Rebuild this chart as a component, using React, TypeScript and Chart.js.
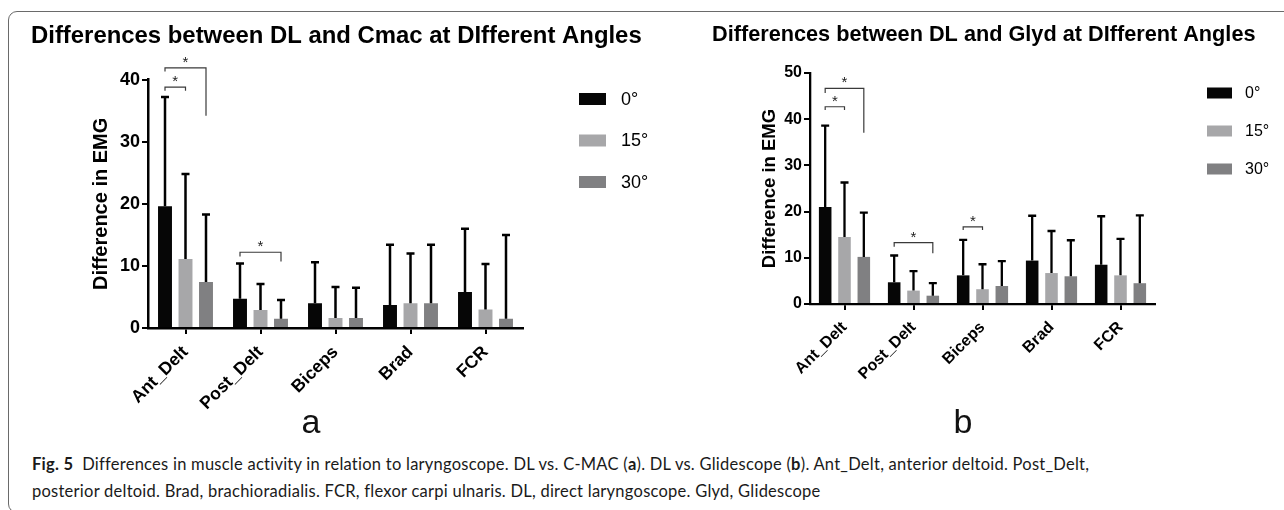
import React, { useEffect, useRef } from "react";
import { Chart, registerables } from "chart.js";

Chart.register(...registerables);

// ---------- data ----------
const muscles = ["Ant_Delt", "Post_Delt", "Biceps", "Brad", "FCR"];
const angleLabels = ["0°", "15°", "30°"];

// DL vs C-MAC (panel a): mean differences and upper SD
const cmac0 = [19.6, 4.7, 4.0, 3.7, 5.8];
const cmac15 = [11.1, 2.9, 1.6, 4.0, 3.0];
const cmac30 = [7.4, 1.5, 1.6, 4.0, 1.5];
const cmac0Sd = [17.6, 5.7, 6.6, 9.7, 10.2];
const cmac15Sd = [13.7, 4.2, 5.0, 8.0, 7.3];
const cmac30Sd = [10.9, 3.0, 4.9, 9.4, 13.5];
const cmacYMax = 40;

// DL vs Glidescope (panel b)
const glyd0 = [21.0, 4.7, 6.2, 9.4, 8.5];
const glyd15 = [14.5, 2.9, 3.2, 6.7, 6.2];
const glyd30 = [10.2, 1.8, 3.9, 6.0, 4.5];
const glyd0Sd = [17.6, 5.8, 7.7, 9.7, 10.5];
const glyd15Sd = [11.8, 4.2, 5.4, 9.1, 7.9];
const glyd30Sd = [9.6, 2.7, 5.4, 7.8, 14.7];
const glydYMax = 50;

// significance brackets: category index, series from/to, top value, leg ends (data units)
const cmacBrackets = [
  { cat: 0, from: 0, to: 1, top: 38.8, endFrom: 38.2, endTo: 38.2 },
  { cat: 0, from: 0, to: 2, top: 41.9, endFrom: 41.3, endTo: 34.2 },
  { cat: 1, from: 0, to: 2, top: 12.2, endFrom: 11.5, endTo: 10.7 },
];
const glydBrackets = [
  { cat: 0, from: 0, to: 1, top: 42.7, endFrom: 42.0, endTo: 42.0 },
  { cat: 0, from: 0, to: 2, top: 46.7, endFrom: 45.7, endTo: 37.1 },
  { cat: 1, from: 0, to: 2, top: 13.3, endFrom: 12.4, endTo: 11.0 },
  { cat: 2, from: 0, to: 1, top: 16.7, endFrom: 16.0, endTo: 16.0 },
];

const seriesColors = ["#060606", "#a7a7a9", "#808082"];
const FONT = "'Liberation Sans', Arial, Helvetica, sans-serif";

// ---------- plugins ----------
const errorBarPlugin = {
  id: "errorBars",
  afterDatasetsDraw(chart: any, _a: any, opts: any) {
    const { ctx } = chart;
    const ys = chart.scales.y;
    ctx.save();
    ctx.strokeStyle = "#000";
    ctx.lineWidth = opts.lineWidth || 2;
    chart.data.datasets.forEach((ds: any, i: number) => {
      const meta = chart.getDatasetMeta(i);
      meta.data.forEach((bar: any, j: number) => {
        const top = ys.getPixelForValue(ds.data[j] + ds.errors[j]);
        const half = (opts.capWidth || 8) / 2;
        ctx.beginPath();
        ctx.moveTo(bar.x, bar.y);
        ctx.lineTo(bar.x, top);
        ctx.moveTo(bar.x - half, top);
        ctx.lineTo(bar.x + half, top);
        ctx.stroke();
      });
    });
    ctx.restore();
  },
};

const bracketPlugin = {
  id: "brackets",
  afterDatasetsDraw(chart: any, _a: any, opts: any) {
    const { ctx } = chart;
    const ys = chart.scales.y;
    ctx.save();
    ctx.strokeStyle = "#3a3a3a";
    ctx.lineWidth = 1.2;
    ctx.fillStyle = "#222";
    ctx.font = `${opts.starSize || 14}px ${FONT}`;
    ctx.textAlign = "center";
    ctx.textBaseline = "middle";
    (opts.items || []).forEach((b: any) => {
      const xa = chart.getDatasetMeta(b.from).data[b.cat].x;
      const xb = chart.getDatasetMeta(b.to).data[b.cat].x;
      const yt = ys.getPixelForValue(b.top);
      ctx.beginPath();
      ctx.moveTo(xa, ys.getPixelForValue(b.endFrom));
      ctx.lineTo(xa, yt);
      ctx.lineTo(xb, yt);
      ctx.lineTo(xb, ys.getPixelForValue(b.endTo));
      ctx.stroke();
      ctx.fillText("*", (xa + xb) / 2, yt - (opts.starLift || 4));
    });
    ctx.restore();
  },
};

const sideLegendPlugin = {
  id: "sideLegend",
  afterDraw(chart: any, _a: any, opts: any) {
    const { ctx } = chart;
    const x0 = chart.chartArea.right + opts.offsetX;
    ctx.save();
    ctx.font = `${opts.fontSize}px ${FONT}`;
    ctx.textBaseline = "middle";
    ctx.textAlign = "left";
    chart.data.datasets.forEach((ds: any, i: number) => {
      const cy = opts.firstY + i * opts.spacing;
      ctx.fillStyle = ds.backgroundColor;
      ctx.fillRect(x0, cy - opts.boxH / 2, opts.boxW, opts.boxH);
      ctx.fillStyle = "#000";
      ctx.fillText(ds.label, x0 + opts.boxW + opts.gap, cy + 1);
    });
    ctx.restore();
  },
};

function makeDatasets(vals: number[][], sds: number[][], barPct: number, catPct: number) {
  return vals.map((v, i) => ({
    label: angleLabels[i],
    data: v,
    errors: sds[i],
    backgroundColor: seriesColors[i],
    borderWidth: 0,
    barPercentage: barPct,
    categoryPercentage: catPct,
    yAxisID: "y",
  }));
}

type PanelCfg = {
  title: string;
  titleSize: number;
  titlePadTop: number;
  titlePadBottom: number;
  yMax: number;
  vals: number[][];
  sds: number[][];
  brackets: any[];
  barPct: number;
  catPct: number;
  padLeft: number;
  legendSpace: number;
  yWidth: number;
  yTitleSize: number;
  yTitleOffset: number;
  tickSize: number;
  xLabelSize: number;
  xLabelPad: number;
  xHeight: number;
  legend: any;
  axisWidth: number;
};

function buildConfig(p: PanelCfg): any {
  return {
    type: "bar",
    data: { labels: muscles, datasets: makeDatasets(p.vals, p.sds, p.barPct, p.catPct) },
    options: {
      responsive: false,
      animation: false,
      events: [],
      layout: { padding: { left: p.padLeft, right: 0, top: 0, bottom: 0 } },
      plugins: {
        legend: { display: false },
        tooltip: { enabled: false },
        title: {
          display: true,
          text: p.title,
          align: "start",
          color: "#000",
          font: { family: FONT, size: p.titleSize, weight: "bold" },
          padding: { top: p.titlePadTop, bottom: p.titlePadBottom },
        },
        errorBars: { lineWidth: p.axisWidth, capWidth: 8 },
        brackets: { items: p.brackets, starSize: 15, starLift: 5 },
        sideLegend: p.legend,
      },
      scales: {
        x: {
          offset: true,
          grid: {
            offset: false,
            drawOnChartArea: false,
            drawTicks: true,
            tickLength: 6,
            color: "#000",
            lineWidth: 2,
          },
          border: { display: true, color: "#000", width: p.axisWidth },
          ticks: {
            color: "#000",
            autoSkip: false,
            maxRotation: 45,
            minRotation: 45,
            padding: p.xLabelPad,
            font: { family: FONT, size: p.xLabelSize, weight: "bold" },
          },
          afterFit: (s: any) => {
            s.height = p.xHeight;
          },
        },
        y: {
          min: 0,
          max: p.yMax,
          ticks: {
            stepSize: 10,
            color: "#000",
            padding: 2,
            font: { family: FONT, size: p.tickSize, weight: "bold" },
          },
          grid: {
            drawOnChartArea: false,
            drawTicks: true,
            tickLength: 6,
            color: "#000",
            lineWidth: 2,
          },
          border: { display: true, color: "#000", width: p.axisWidth },
          title: {
            display: true,
            text: "Difference in EMG",
            color: "#000",
            font: { family: FONT, size: p.yTitleSize, weight: "bold" },
            padding: { top: p.yTitleOffset, bottom: 0 },
          },
          afterFit: (s: any) => {
            s.width = p.yWidth;
          },
        },
        // empty right-hand axis that only reserves room for the legend
        legendSpace: {
          position: "right",
          display: true,
          grid: { display: false, drawTicks: false },
          border: { display: false },
          ticks: { display: false },
          afterFit: (s: any) => {
            s.width = p.legendSpace;
          },
        },
      },
    },
    plugins: [errorBarPlugin, bracketPlugin, sideLegendPlugin],
  };
}

const panelA: PanelCfg = {
  title: "Differences between DL and Cmac at DIfferent Angles",
  titleSize: 23.9,
  titlePadTop: 22,
  titlePadBottom: 29,
  yMax: cmacYMax,
  vals: [cmac0, cmac15, cmac30],
  sds: [cmac0Sd, cmac15Sd, cmac30Sd],
  brackets: cmacBrackets,
  barPct: 0.68,
  catPct: 0.82,
  padLeft: 31,
  legendSpace: 137,
  yWidth: 117,
  yTitleSize: 20,
  yTitleOffset: 58,
  tickSize: 18,
  xLabelSize: 17.5,
  xLabelPad: 8,
  xHeight: 92,
  axisWidth: 2.5,
  legend: { offsetX: 56, firstY: 99, spacing: 41.5, boxW: 27, boxH: 12, gap: 15, fontSize: 18 },
};

const panelB: PanelCfg = {
  title: "Differences between DL and Glyd at DIfferent Angles",
  titleSize: 21.7,
  titlePadTop: 22,
  titlePadBottom: 25,
  yMax: glydYMax,
  vals: [glyd0, glyd15, glyd30],
  sds: [glyd0Sd, glyd15Sd, glyd30Sd],
  brackets: glydBrackets,
  barPct: 0.65,
  catPct: 0.84,
  padLeft: 52,
  legendSpace: 129,
  yWidth: 98,
  yTitleSize: 18.5,
  yTitleOffset: 47,
  tickSize: 16,
  xLabelSize: 16,
  xLabelPad: 8,
  xHeight: 116,
  axisWidth: 2.3,
  legend: { offsetX: 52, firstY: 93, spacing: 38, boxW: 25, boxH: 11, gap: 13, fontSize: 16 },
};

function Panel({ cfg, left, width }: { cfg: PanelCfg; left: number; width: number }) {
  const ref = useRef<HTMLCanvasElement | null>(null);
  useEffect(() => {
    if (!ref.current) return;
    const chart = new Chart(ref.current, buildConfig(cfg));
    return () => chart.destroy();
  }, [cfg]);
  return (
    <canvas
      ref={ref}
      width={width}
      height={420}
      style={{ position: "absolute", left, top: 0, width, height: 420 }}
    />
  );
}

export default function App() {
  const capStyle: React.CSSProperties = {
    position: "absolute",
    left: 32,
    whiteSpace: "nowrap",
    fontFamily: "Lato, 'Open Sans', sans-serif",
    fontSize: 16.5,
    letterSpacing: 0.25,
    color: "#1a1a1a",
  };
  const panelLetter: React.CSSProperties = {
    position: "absolute",
    top: 402,
    width: 34,
    textAlign: "center",
    fontFamily: FONT,
    fontSize: 34,
    color: "#111",
  };
  return (
    <div
      style={{
        position: "fixed",
        left: 0,
        top: 0,
        width: 1284,
        height: 510,
        overflow: "hidden",
        background: "#fff",
      }}
    >
      <div
        style={{
          position: "absolute",
          left: 8,
          top: 11,
          width: 1320,
          height: 502,
          border: "1px solid #6a6a6a",
          borderRadius: 9,
          boxSizing: "border-box",
        }}
      />
      <Panel cfg={panelA} left={0} width={660} />
      <Panel cfg={panelB} left={660} width={624} />
      <div style={{ ...panelLetter, left: 294 }}>a</div>
      <div style={{ ...panelLetter, left: 946 }}>b</div>
      <div style={{ ...capStyle, top: 454 }}>
        <b>Fig. 5</b>&nbsp; Differences in muscle activity in relation to laryngoscope. DL vs. C-MAC (<b>a</b>). DL vs.
        Glidescope (<b>b</b>). Ant_Delt, anterior deltoid. Post_Delt,
      </div>
      <div style={{ ...capStyle, top: 481 }}>
        posterior deltoid. Brad, brachioradialis. FCR, flexor carpi ulnaris. DL, direct laryngoscope. Glyd, Glidescope
      </div>
    </div>
  );
}
